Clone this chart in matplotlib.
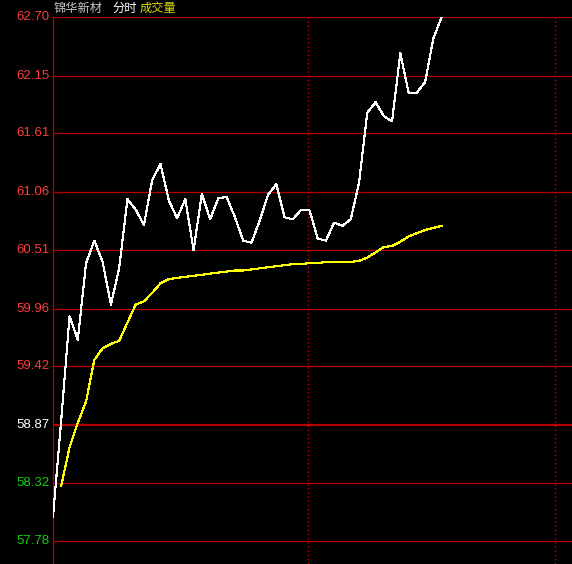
import matplotlib
matplotlib.use('Agg')
import matplotlib.pyplot as plt

# intraday price (white) and average price (yellow)
price = [58.01, 58.92, 59.89, 59.67, 60.39, 60.60, 60.40, 60.00, 60.34, 60.99,
         60.89, 60.75, 61.17, 61.32, 60.98, 60.81, 60.99, 60.51, 61.04, 60.80,
         61.00, 61.01, 60.82, 60.60, 60.58, 60.79, 61.03, 61.13, 60.82, 60.80,
         60.89, 60.89, 60.62, 60.60, 60.77, 60.74, 60.80, 61.14, 61.80, 61.90,
         61.77, 61.72, 62.36, 61.99, 61.99, 62.09, 62.50, 62.70]
avg_price = [58.30, 58.66, 58.89, 59.09, 59.48, 59.59, 59.63, 59.66, 59.83,
             60.00, 60.03, 60.11, 60.20, 60.24, 60.25, 60.26, 60.27, 60.28, 60.29,
             60.30, 60.31, 60.32, 60.32, 60.33, 60.34, 60.35, 60.36, 60.37, 60.38,
             60.38, 60.39, 60.39, 60.40, 60.40, 60.40, 60.40, 60.41, 60.44, 60.49,
             60.54, 60.55, 60.59, 60.64, 60.67, 60.70, 60.72, 60.74]
y_ticks = [62.70, 62.15, 61.61, 61.06, 60.51, 59.96, 59.42, 58.87, 58.32, 57.78]
prev_close = 58.87
session_marks = [30.83, 60.70]

grid_red = '#b40000'

fig = plt.figure(figsize=(5.72, 5.64), dpi=100, facecolor='black')
ax = fig.add_axes([53 / 572, 0, 1 - 53 / 572, 1 - 17 / 564])
ax.set_facecolor('black')

for v in y_ticks:
    lw = 1.6 if v == prev_close else 0.9
    ax.axhline(v, color=grid_red, lw=lw, zorder=1)
    if v > prev_close:
        c = '#ff3c3c'
    elif v < prev_close:
        c = '#10d010'
    else:
        c = 'white'
    ax.text(-0.006, v, '%.2f' % v, transform=ax.get_yaxis_transform(),
            ha='right', va='center', color=c, fontsize=9.5,
            family='Liberation Sans', clip_on=False)

for x in session_marks:
    ax.axvline(x, color='#d00000', lw=1.0, linestyle=(0, (1.0, 2.0)), zorder=1)

ax.plot(range(len(price)), price, color='white', lw=0.8, antialiased=False, zorder=3)
ax.plot(range(1, len(avg_price) + 1), avg_price, color='#ffff00', lw=0.8,
        antialiased=False, zorder=2)

ax.set_xlim(0, 62.76)
ax.set_ylim(57.564, 62.70)
ax.set_xticks([])
ax.set_yticks([])
for s in ['right', 'bottom', 'top']:
    ax.spines[s].set_visible(False)
ax.spines['left'].set_color(grid_red)
ax.spines['left'].set_linewidth(0.9)

cjk = ['Noto Sans CJK SC', 'DejaVu Sans']
fig.text(54 / 572, 1 - 8 / 564, '锦华新材', color='#c8c8c8', fontsize=8.8,
         family=cjk, va='center', ha='left')
fig.text(112 / 572, 1 - 8 / 564, '分时', color='white', fontsize=8.8,
         family=cjk, va='center', ha='left')
fig.text(140 / 572, 1 - 8 / 564, '成交量', color='#d8d800', fontsize=8.8,
         family=cjk, va='center', ha='left')

plt.savefig('out.png', dpi=100, facecolor='black')
